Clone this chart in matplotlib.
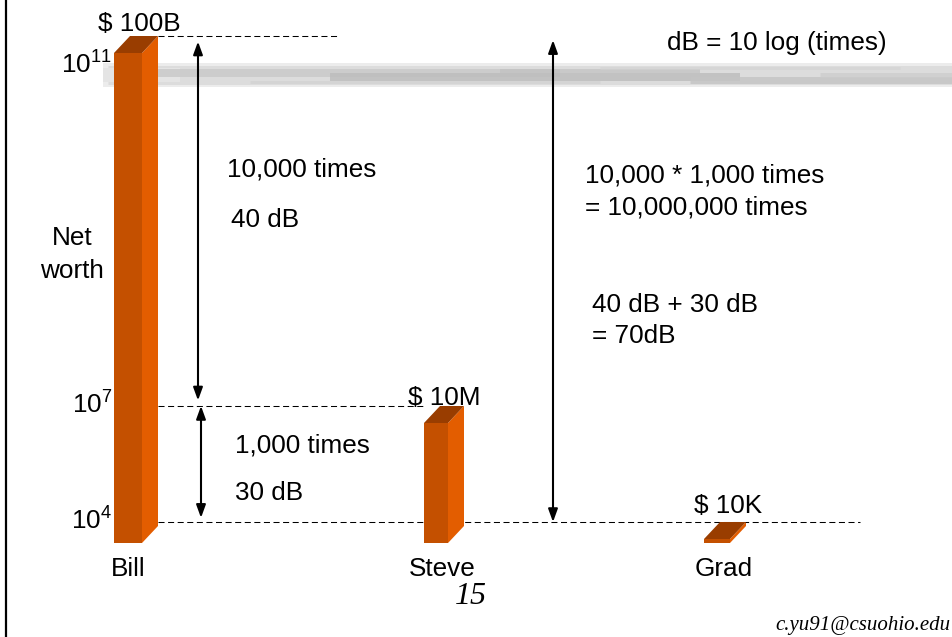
import numpy as np
import matplotlib.pyplot as plt
import matplotlib.transforms as mtransforms
from matplotlib.patches import Polygon, ArrowStyle

plt.rcParams['font.family'] = ['Liberation Sans', 'DejaVu Sans']
plt.rcParams['mathtext.fontset'] = 'custom'
plt.rcParams['mathtext.rm'] = 'Liberation Sans'
plt.rcParams['mathtext.it'] = 'Liberation Sans:italic'

# net worth of each person
names = ['Bill', 'Steve', 'Grad']
net_worth = [1e11, 1e7, 1e4]
worth_labels = [r'\$ 100B', r'\$ 10M', r'\$ 10K']

# reference levels on the axis
level_values = [1e11, 1e7, 1e4]
level_labels = [r'$\mathregular{10^{11}}$', r'$\mathregular{10^{7}}$', r'$\mathregular{10^{4}}$']

W, H = 952, 637
FRONT = '#c45000'
SIDE = '#e35d00'
TOP = '#993d00'
FS = 18.8

# the slide squeezes the low decades, so the log axis is piecewise
LOG_KNOTS = [0.0, 3.9, 4.0, 7.0, 11.0, 20.0]
HEIGHT_KNOTS = [-156.0, 0.0, 4.0, 120.0, 490.0, 1322.5]


def forward(v):
    v = np.asarray(v, dtype=float)
    return np.interp(np.log10(np.clip(v, 1e-300, None)), LOG_KNOTS, HEIGHT_KNOTS)


def inverse(h):
    return 10 ** np.interp(np.asarray(h, dtype=float), HEIGHT_KNOTS, LOG_KNOTS)


fig = plt.figure(figsize=(W / 100, H / 100), dpi=100)
ax = fig.add_axes([0, 0, 1, 1])
ax.set_yscale('function', functions=(forward, inverse))
ax.axis('off')

# pixel coordinates measured from the top-left corner
top_left = mtransforms.Affine2D().scale(1 / W, -1 / H).translate(0, 1) + fig.transFigure

# grey brush stroke of the slide template: soft layered streaks
brush = [
    (103, 952, 75, 24, '#ececec', 1.0),
    (108, 952, 75, 19, '#dcdcdc', 1.0),
    (103, 180, 75, 14, '#e4e4e4', 1.0),
    (150, 560, 73, 8, '#c8c8c8', 0.8),
    (330, 740, 77, 8, '#bcbcbc', 0.8),
    (500, 700, 71, 4, '#c2c2c2', 0.7),
    (690, 952, 80, 7, '#c4c4c4', 0.8),
    (820, 952, 75, 5, '#cccccc', 0.7),
    (250, 600, 82, 3, '#d0d0d0', 0.6),
    (600, 900, 68, 3, '#d2d2d2', 0.6),
]
for x0, x1, y, lw_px, c, a in brush:
    ax.plot([x0, x1], [y, y], transform=top_left, color=c, alpha=a, lw=lw_px * 0.72,
            solid_capstyle='butt', zorder=0.5)

bar_left = [114, 424, 704]
bar_width = [28, 24, 26]
base = float(inverse(0))

for left, w, v in zip(bar_left, bar_width, net_worth):
    ax.bar(left, v - base, bottom=base, width=w, align='edge', color=FRONT,
           linewidth=0, zorder=3)

ax.set_xlim(0, W)
ax.set_ylim(float(inverse(-94)), float(inverse(543)))

# depth of the 3D bars, in pixels
depth = mtransforms.ScaledTranslation(16 / 100, 17 / 100, fig.dpi_scale_trans)
back = ax.transData + depth
ident = mtransforms.IdentityTransform()

for left, w, v in zip(bar_left, bar_width, net_worth):
    x0, x1 = left, left + w
    fr = ax.transData.transform([(x1, base), (x1, v), (x0, v)])
    bk = back.transform([(x1, base), (x1, v), (x0, v)])
    ax.add_patch(Polygon([fr[0], fr[1], bk[1], bk[0]], closed=True, transform=ident,
                         facecolor=SIDE, edgecolor='none', zorder=3))
    ax.add_patch(Polygon([fr[2], fr[1], bk[1], bk[2]], closed=True, transform=ident,
                         facecolor=TOP, edgecolor='none', zorder=3))

# dashed guide lines at each level (drawn on the back plane)
guide_ends = [324, 407, 844]
for v, x_end in zip(level_values, guide_ends):
    ax.plot([142, x_end], [v, v], transform=back, color='black', lw=0.75,
            ls=(0, (5.8, 3.4)), zorder=1)

# double-headed arrows between levels
style = ArrowStyle('<|-|>', head_length=0.55, head_width=0.2)
arrows = [(182, 1e11, 1e7, 4, 4), (185, 1e7, 1e4, 0, 3), (537, 1e11, 1e4, 3, 0)]
for x, v_top, v_bot, sh_top, sh_bot in arrows:
    ax.annotate('', xy=(x, v_top), xytext=(x, v_bot), xycoords=back, textcoords=back,
                arrowprops=dict(arrowstyle=style, mutation_scale=14, lw=1.5,
                                color='black', shrinkA=sh_bot, shrinkB=sh_top),
                zorder=4)

# left border of the slide
ax.plot([6, 6], [0, H], transform=top_left, color='black', lw=1.6, zorder=5)


def put(x, y, s, **kw):
    kw.setdefault('fontsize', FS)
    kw.setdefault('va', 'baseline')
    return ax.text(x, y, s, transform=top_left, **kw)


for lab, y in zip(level_labels, [74, 414, 530]):
    put(112, y, lab, ha='right')

put(72, 245, 'Net', ha='center')
put(72, 278, 'worth', ha='center')

for name, cx in zip(names, [128, 442, 724]):
    put(cx, 576, name, ha='center')

for lab, cx, y in zip(worth_labels, [139, 444, 728], [31, 405, 513]):
    put(cx, y, lab, ha='center')

put(227, 177, '10,000 times')
put(231, 227, '40 dB')
put(235, 453, '1,000 times')
put(235, 500, '30 dB')

put(667, 50, 'dB = 10 log (times)')
put(585, 182, '10,000 * 1,000 times')
put(585, 215, '= 10,000,000 times')
put(592, 312, '40 dB + 30 dB')
put(592, 343, '= 70dB')

put(455, 604, '15', family='Liberation Serif', style='italic', fontsize=23)
put(775, 630, 'c.yu91@csuohio.edu', family='Liberation Serif', style='italic',
    fontsize=15)

fig.savefig('out.png', dpi=100)
